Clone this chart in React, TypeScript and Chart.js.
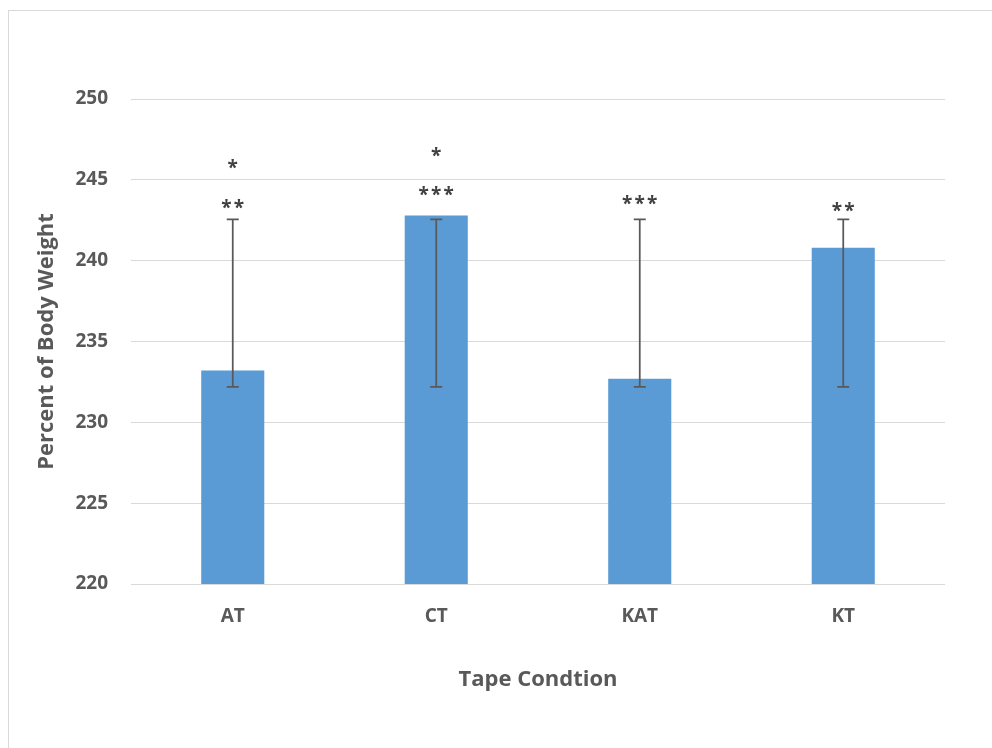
import React, { useEffect, useRef } from "react";
import { Chart, registerables } from "chart.js";

Chart.register(...registerables);

const categories = ["AT", "CT", "KAT", "KT"];
const meanValues = [233.2, 242.8, 232.7, 240.8];
const errorLow = [232.2, 232.2, 232.2, 232.2];
const errorHigh = [242.55, 242.55, 242.55, 242.55];
const starsLower = ["**", "***", "***", "**"];
const starsLowerY = [243.5, 244.3, 243.75, 243.3];
const starsUpper = ["*", "*", "", ""];
const starsUpperY = [246.0, 246.7, 0, 0];
const yTicks = [220, 225, 230, 235, 240, 245, 250];

const FONT = "'Open Sans', 'Liberation Sans', sans-serif";
const TEXT = "#595959";

const errorBarPlugin = {
  id: "errorBars",
  afterDatasetsDraw(chart: any) {
    const { ctx, scales } = chart;
    const meta = chart.getDatasetMeta(0);
    ctx.save();
    ctx.strokeStyle = "#595959";
    ctx.lineWidth = 1.75;
    meta.data.forEach((bar: any, i: number) => {
      const x = bar.x;
      const yl = scales.y.getPixelForValue(errorLow[i]);
      const yh = scales.y.getPixelForValue(errorHigh[i]);
      ctx.beginPath();
      ctx.moveTo(x, yl);
      ctx.lineTo(x, yh);
      ctx.moveTo(x - 6, yl);
      ctx.lineTo(x + 6, yl);
      ctx.moveTo(x - 6, yh);
      ctx.lineTo(x + 6, yh);
      ctx.stroke();
    });
    ctx.restore();
  },
};

const starPlugin = {
  id: "stars",
  afterDatasetsDraw(chart: any) {
    const { ctx, scales } = chart;
    const meta = chart.getDatasetMeta(0);
    ctx.save();
    ctx.fillStyle = "#404040";
    ctx.font = `bold 19px ${FONT}`;
    ctx.textAlign = "center";
    ctx.textBaseline = "alphabetic";
    const drawStars = (s: string, x: number, yVal: number) => {
      const n = s.length;
      if (!n) return;
      const cy = scales.y.getPixelForValue(yVal);
      const gap = 12.5;
      for (let k = 0; k < n; k++) {
        const sx = x + (k - (n - 1) / 2) * gap;
        ctx.fillText("*", sx, cy + 10);
      }
    };
    meta.data.forEach((bar: any, i: number) => {
      drawStars(starsLower[i], bar.x, starsLowerY[i]);
      drawStars(starsUpper[i], bar.x, starsUpperY[i]);
    });
    ctx.restore();
  },
};

export default function App() {
  const ref = useRef<HTMLCanvasElement | null>(null);
  useEffect(() => {
    document.documentElement.style.overflow = "hidden";
    const chart = new Chart(ref.current as HTMLCanvasElement, {
      type: "bar",
      data: {
        labels: categories,
        datasets: [
          {
            data: meanValues,
            backgroundColor: "#5b9bd5",
            borderWidth: 0,
            categoryPercentage: 0.31,
            barPercentage: 1,
          },
        ],
      },
      options: {
        animation: false,
        responsive: false,
        maintainAspectRatio: false,
        layout: { padding: { left: 0, top: 99, right: 47, bottom: 0 } },
        plugins: { legend: { display: false }, tooltip: { enabled: false } },
        scales: {
          x: {
            grid: { display: false },
            border: { display: false },
            ticks: { color: TEXT, font: { family: FONT, size: 19, weight: "bold" }, padding: 13 },
            title: {
              display: true,
              text: "Tape Condtion",
              color: TEXT,
              font: { family: FONT, size: 22, weight: "bold" },
              padding: { top: 0, bottom: 55 },
            },
            afterFit(scale: any) {
              scale.height = 164;
            },
          },
          y: {
            min: 220,
            max: 250,
            afterBuildTicks(scale: any) {
              scale.ticks = yTicks.map((v) => ({ value: v }));
            },
            grid: { color: "#d9d9d9", lineWidth: 1, drawTicks: false },
            border: { display: false },
            ticks: { color: TEXT, font: { family: FONT, size: 19, weight: "bold" }, padding: 23 },
            title: {
              display: true,
              text: "Percent of Body Weight",
              color: TEXT,
              font: { family: FONT, size: 22, weight: "bold" },
              padding: { top: 34, bottom: 0 },
            },
            afterFit(scale: any) {
              scale.width = 131;
            },
          },
        },
      },
      plugins: [errorBarPlugin, starPlugin],
    } as any);
    return () => chart.destroy();
  }, []);
  return (
    <div>
      <div
        style={{
          position: "fixed",
          left: 8,
          top: 10,
          width: 1100,
          height: 900,
          borderTop: "1px solid #d9d9d9",
          borderLeft: "1px solid #d9d9d9",
          boxSizing: "border-box",
        }}
      />
      <canvas
        ref={ref}
        width={992}
        height={748}
        style={{ position: "fixed", left: 0, top: 0, width: 992, height: 748 }}
      />
    </div>
  );
}
